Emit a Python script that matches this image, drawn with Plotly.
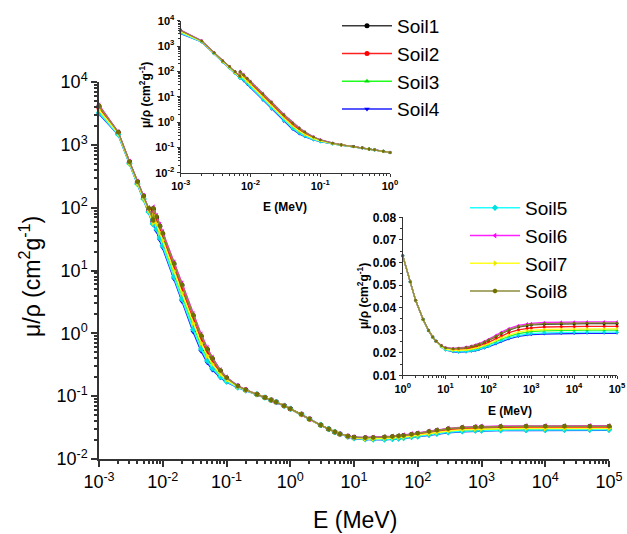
import plotly.graph_objects as go

# ---------------- data ----------------
energy_mev = [0.001, 0.002, 0.003, 0.004, 0.005, 0.006, 0.007, 0.007112, 0.007112, 0.008,
              0.009, 0.01, 0.015, 0.02, 0.03, 0.04, 0.05, 0.06, 0.08, 0.1, 0.15, 0.2,
              0.3, 0.4, 0.5, 0.6, 0.8, 1, 1.5, 2, 3, 4, 5, 6,
              8, 10, 15, 20, 30, 40, 50, 60, 80, 100, 150, 200, 300, 500, 800, 1000,
              2000, 5000, 10000, 20000, 50000, 100000]

# 0.3 - 6 MeV: all soils practically coincide
mid_common = [0.107, 0.0955, 0.087, 0.0805, 0.0706, 0.0630, 0.0514, 0.0432, 0.0347, 0.0299, 0.0270, 0.0251]

soil1_low = [4120, 1580, 538, 258, 153, 96.8, 64.4, 61.9, 95.4, 70.0, 50.5, 38.3, 12.7, 5.8, 1.90, 0.90, 0.553, 0.392, 0.252, 0.195, 0.145, 0.126]
soil1_high = [0.0231, 0.0221, 0.0217, 0.0218, 0.0222, 0.0226, 0.0231, 0.0236, 0.0246, 0.0254, 0.0271, 0.0285, 0.0300, 0.0314, 0.0321, 0.0323, 0.0326, 0.0328, 0.0328, 0.0329, 0.0329, 0.0329]

soil2_low = [3820, 1540, 527, 251, 148, 93, 61.6, 59.3, 84.4, 61.8, 44.6, 33.8, 11.1, 5.1, 1.65, 0.79, 0.49, 0.354, 0.236, 0.187, 0.142, 0.125]
soil2_high = [0.0230, 0.0218, 0.0213, 0.0213, 0.0216, 0.0220, 0.0225, 0.0229, 0.0238, 0.0246, 0.0262, 0.0274, 0.0289, 0.0301, 0.0308, 0.0310, 0.0314, 0.0316, 0.0316, 0.0317, 0.0317, 0.0317]

soil3_low = [3420, 1490, 512, 242, 141, 88, 58, 55.8, 69.9, 50.9, 36.8, 27.9, 9.0, 4.0, 1.32, 0.64, 0.408, 0.303, 0.215, 0.177, 0.139, 0.124]
soil3_high = [0.0228, 0.0215, 0.0208, 0.0207, 0.0209, 0.0213, 0.0216, 0.0220, 0.0228, 0.0235, 0.0249, 0.0260, 0.0273, 0.0285, 0.0292, 0.0294, 0.0297, 0.0299, 0.0299, 0.0300, 0.0300, 0.0300]

soil4_low = [3100, 1450, 500, 235, 135, 84, 55, 53, 58, 42, 30.5, 23, 7.3, 3.2, 1.05, 0.52, 0.34, 0.262, 0.197, 0.168, 0.137, 0.123]
soil4_high = [0.0226, 0.0212, 0.0204, 0.0202, 0.0203, 0.0206, 0.0209, 0.0213, 0.0220, 0.0226, 0.0239, 0.0249, 0.0261, 0.0272, 0.0278, 0.0280, 0.0283, 0.0285, 0.0285, 0.0286, 0.0286, 0.0286]

soil5_low = [3220, 1465, 505, 238, 137, 85.5, 56.1, 54.1, 62.4, 45.3, 32.9, 24.8, 7.9, 3.5, 1.15, 0.565, 0.365, 0.277, 0.204, 0.171, 0.138, 0.1235]
soil5_high = [0.0227, 0.0213, 0.0206, 0.0204, 0.0205, 0.0208, 0.0212, 0.0216, 0.0223, 0.0229, 0.0243, 0.0253, 0.0266, 0.0277, 0.0283, 0.0285, 0.0288, 0.0290, 0.0290, 0.0291, 0.0291, 0.0291]

soil6_low = [4300, 1600, 545, 262, 156, 99, 66, 63.5, 102, 75, 54, 41, 13.6, 6.3, 2.05, 0.97, 0.59, 0.415, 0.262, 0.200, 0.146, 0.1265]
soil6_high = [0.0232, 0.0222, 0.0219, 0.0221, 0.0225, 0.0230, 0.0235, 0.0240, 0.0250, 0.0259, 0.0277, 0.0291, 0.0307, 0.0321, 0.0328, 0.0330, 0.0334, 0.0336, 0.0336, 0.0337, 0.0337, 0.0337]

soil7_low = [3580, 1510, 518, 246, 143, 90, 59.4, 57.2, 75.6, 55.2, 39.9, 30.2, 9.8, 4.4, 1.45, 0.70, 0.44, 0.323, 0.223, 0.181, 0.141, 0.1245]
soil7_high = [0.0228, 0.0216, 0.0210, 0.0210, 0.0212, 0.0216, 0.0219, 0.0224, 0.0232, 0.0239, 0.0254, 0.0266, 0.0279, 0.0292, 0.0298, 0.0300, 0.0303, 0.0305, 0.0305, 0.0306, 0.0306, 0.0306]

soil8_low = [4180, 1585, 540, 259, 154, 97.5, 64.9, 62.5, 97.6, 71.7, 51.7, 39.2, 13.0, 6.0, 1.95, 0.925, 0.565, 0.40, 0.256, 0.197, 0.145, 0.126]
soil8_high = [0.0231, 0.0221, 0.0218, 0.0219, 0.0223, 0.0228, 0.0232, 0.0237, 0.0247, 0.0256, 0.0273, 0.0287, 0.0302, 0.0316, 0.0323, 0.0325, 0.0329, 0.0331, 0.0331, 0.0332, 0.0332, 0.0332]

soil_names = ["Soil1", "Soil2", "Soil3", "Soil4", "Soil5", "Soil6", "Soil7", "Soil8"]
soil_values = {
    "Soil1": soil1_low + mid_common + soil1_high,
    "Soil2": soil2_low + mid_common + soil2_high,
    "Soil3": soil3_low + mid_common + soil3_high,
    "Soil4": soil4_low + mid_common + soil4_high,
    "Soil5": soil5_low + mid_common + soil5_high,
    "Soil6": soil6_low + mid_common + soil6_high,
    "Soil7": soil7_low + mid_common + soil7_high,
    "Soil8": soil8_low + mid_common + soil8_high,
}

main_tick_vals = [1e-3, 1e-2, 1e-1, 1e0, 1e1, 1e2, 1e3, 1e4, 1e5]
main_tick_text = ["10<sup>-3</sup>", "10<sup>-2</sup>", "10<sup>-1</sup>", "10<sup>0</sup>", "10<sup>1</sup>",
                  "10<sup>2</sup>", "10<sup>3</sup>", "10<sup>4</sup>", "10<sup>5</sup>"]
y_tick_vals = [1e-2, 1e-1, 1e0, 1e1, 1e2, 1e3, 1e4]
y_tick_text = ["10<sup>-2</sup>", "10<sup>-1</sup>", "10<sup>0</sup>", "10<sup>1</sup>", "10<sup>2</sup>",
               "10<sup>3</sup>", "10<sup>4</sup>"]
inset2_y_ticks = [0.01, 0.02, 0.03, 0.04, 0.05, 0.06, 0.07, 0.08]

# ---------------- styles ----------------
line_colors = {"Soil1": "#3a3a3a", "Soil2": "#FF2020", "Soil3": "#20FF20", "Soil4": "#2020FF",
               "Soil5": "#20FFFF", "Soil6": "#FF20FF", "Soil7": "#FFFF20", "Soil8": "#8c8c3c"}
marker_colors = {"Soil1": "#000000", "Soil2": "#FF0000", "Soil3": "#00E000", "Soil4": "#0000FF",
                 "Soil5": "#00E0E0", "Soil6": "#FF00FF", "Soil7": "#E8E800", "Soil8": "#707000"}
symbols = {"Soil1": "circle", "Soil2": "circle", "Soil3": "triangle-up", "Soil4": "triangle-down",
           "Soil5": "diamond", "Soil6": "triangle-left", "Soil7": "triangle-right", "Soil8": "hexagon"}

W, H = 627, 534


def px_x(p):
    return p / W


def px_y(p):
    return 1 - p / H


fig = go.Figure()

for name in soil_names:
    vals = soil_values[name]
    leg = "legend" if name in ["Soil1", "Soil2", "Soil3", "Soil4"] else "legend2"
    # main panel
    fig.add_trace(go.Scatter(
        x=energy_mev, y=vals, mode="lines+markers", name=name, legend=leg,
        line=dict(color=line_colors[name], width=1.5),
        marker=dict(color=marker_colors[name], symbol=symbols[name], size=5),
        cliponaxis=False, xaxis="x", yaxis="y"))
    # inset 1 : 1 keV - 1 MeV
    e1 = [e for e in energy_mev if e <= 1]
    v1 = [v for e, v in zip(energy_mev, vals) if e <= 1]
    fig.add_trace(go.Scatter(
        x=e1, y=v1, mode="lines+markers", showlegend=False,
        line=dict(color=line_colors[name], width=1.3),
        marker=dict(color=marker_colors[name], symbol=symbols[name], size=3),
        cliponaxis=False, xaxis="x2", yaxis="y2"))
    # inset 2 : 1 MeV - 100 GeV
    e2 = [e for e in energy_mev if e >= 1]
    v2 = [v for e, v in zip(energy_mev, vals) if e >= 1]
    fig.add_trace(go.Scatter(
        x=e2, y=v2, mode="lines+markers", showlegend=False,
        line=dict(color=line_colors[name], width=1.3),
        marker=dict(color=marker_colors[name], symbol=symbols[name], size=3),
        cliponaxis=False, xaxis="x3", yaxis="y3"))


def minor_log(lo, hi):
    out = []
    for d in range(lo, hi):
        for m in range(2, 10):
            out.append(m * 10 ** d)
    return out


axis_common = dict(showline=True, linecolor="#333333", showgrid=False, zeroline=False,
                   ticks="outside", tickcolor="#333333", automargin=False)
main_font = dict(family="Liberation Sans, Arial", size=18, color="black")
inset_font = dict(family="Liberation Sans, Arial", size=11, color="black")

fig.update_layout(
    template="none",
    width=W, height=H,
    margin=dict(l=0, r=0, t=0, b=0, pad=0, autoexpand=False),
    paper_bgcolor="white", plot_bgcolor="rgba(0,0,0,0)",
    xaxis=dict(type="log", range=[-3, 5], domain=[px_x(99), px_x(609)], anchor="y",
               tickvals=main_tick_vals, ticktext=main_tick_text, tickfont=main_font,
               linewidth=1.5, tickwidth=1.5, ticklen=6,
               minor=dict(tickvals=minor_log(-3, 5), ticks="outside", ticklen=3,
                          tickcolor="#333333", showgrid=False),
               **axis_common),
    yaxis=dict(type="log", range=[-2, 4], domain=[px_y(459), px_y(82)], anchor="x",
               tickvals=y_tick_vals, ticktext=y_tick_text, tickfont=main_font,
               linewidth=1.5, tickwidth=1.5, ticklen=6,
               minor=dict(tickvals=minor_log(-2, 4), ticks="outside", ticklen=3,
                          tickcolor="#333333", showgrid=False),
               **axis_common),
    xaxis2=dict(type="log", range=[-3, 0], domain=[px_x(180.7), px_x(390)], anchor="y2",
                tickvals=main_tick_vals[:4], ticktext=["<b>" + t + "</b>" for t in main_tick_text[:4]],
                tickfont=inset_font, linewidth=1.3, tickwidth=1.2, ticklen=3,
                minor=dict(tickvals=minor_log(-3, 0), ticks="outside", ticklen=2,
                           tickcolor="#333333", showgrid=False),
                **axis_common),
    yaxis2=dict(type="log", range=[-2, 4], domain=[px_y(172.7), px_y(20.7)], anchor="x2",
                tickvals=y_tick_vals, ticktext=["<b>" + t + "</b>" for t in y_tick_text],
                tickfont=inset_font, linewidth=1.3, tickwidth=1.2, ticklen=3,
                minor=dict(tickvals=minor_log(-2, 4), ticks="outside", ticklen=2,
                           tickcolor="#333333", showgrid=False),
                **axis_common),
    xaxis3=dict(type="log", range=[0, 5], domain=[px_x(402.7), px_x(617)], anchor="y3",
                tickvals=main_tick_vals[3:], ticktext=["<b>" + t + "</b>" for t in main_tick_text[3:]],
                tickfont=inset_font, linewidth=1.3, tickwidth=1.2, ticklen=3,
                minor=dict(tickvals=minor_log(0, 5), ticks="outside", ticklen=2,
                           tickcolor="#333333", showgrid=False),
                **axis_common),
    yaxis3=dict(type="linear", range=[0.01, 0.08], domain=[px_y(375.3), px_y(217.3)], anchor="x3",
                tickvals=inset2_y_ticks, ticktext=["<b>%.2f</b>" % v for v in inset2_y_ticks],
                tickfont=dict(family="Liberation Sans, Arial", size=12, color="black"),
                linewidth=1.3, tickwidth=1.2, ticklen=3,
                minor=dict(dtick=0.005, ticks="outside", ticklen=2, tickcolor="#333333", showgrid=False),
                **axis_common),
    legend=dict(x=px_x(337), y=px_y(7), xanchor="left", yanchor="top",
                font=dict(family="Liberation Sans, Arial", size=19, color="black"),
                bgcolor="rgba(0,0,0,0)", itemwidth=50, tracegroupgap=0),
    legend2=dict(x=px_x(465), y=px_y(189), xanchor="left", yanchor="top",
                 font=dict(family="Liberation Sans, Arial", size=19, color="black"),
                 bgcolor="rgba(0,0,0,0)", itemwidth=50, tracegroupgap=0),
)

ytitle = "μ/ρ (cm<sup>2</sup>g<sup>-1</sup>)"
annos = [
    dict(text="E (MeV)", x=px_x(355), y=px_y(520), font=dict(family="Liberation Sans, Arial", size=23, color="black")),
    dict(text=ytitle, x=px_x(30), y=px_y(277), textangle=-90,
         font=dict(family="Liberation Sans, Arial", size=23, color="black")),
    dict(text="<b>E (MeV)</b>", x=px_x(285), y=px_y(207), font=dict(family="Liberation Sans, Arial", size=12, color="black")),
    dict(text="<b>" + ytitle + "</b>", x=px_x(145), y=px_y(95), textangle=-90,
         font=dict(family="Liberation Sans, Arial", size=12, color="black")),
    dict(text="<b>E (MeV)</b>", x=px_x(510), y=px_y(411), font=dict(family="Liberation Sans, Arial", size=12, color="black")),
    dict(text="<b>" + ytitle + "</b>", x=px_x(363), y=px_y(296), textangle=-90,
         font=dict(family="Liberation Sans, Arial", size=12, color="black")),
]
for a in annos:
    a.update(xref="paper", yref="paper", showarrow=False, xanchor="center", yanchor="middle")
fig.update_layout(annotations=annos)

fig.write_html("out.html")
